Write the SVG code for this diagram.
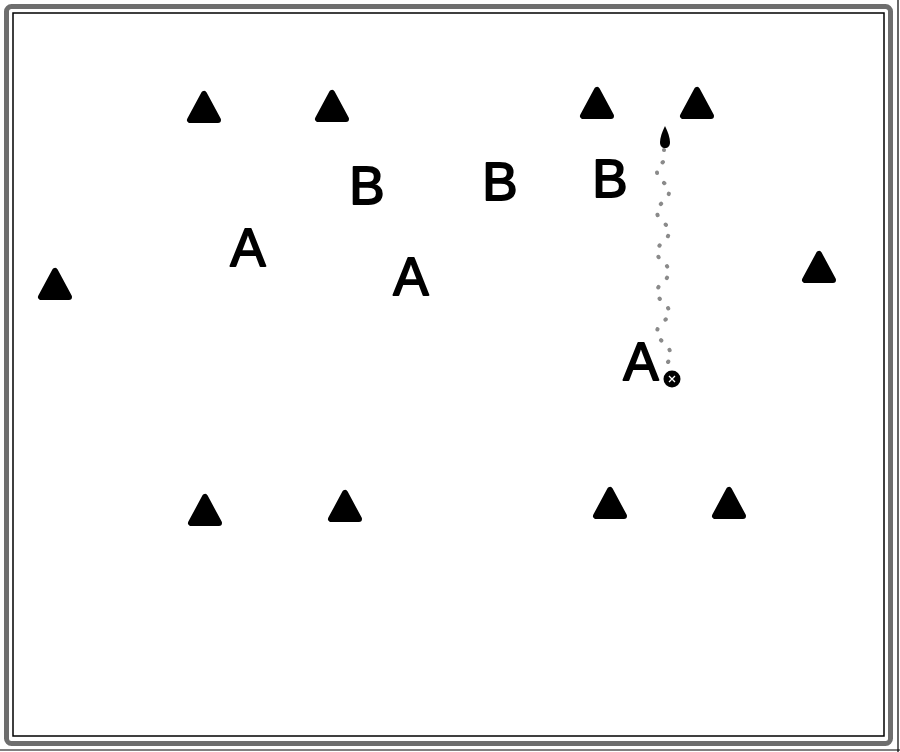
<svg xmlns="http://www.w3.org/2000/svg" width="900" height="752" viewBox="0 0 900 752">
<defs>
<style>
.cone{fill:#000;stroke:#000;stroke-width:6;stroke-linejoin:round}
.lbl{font-family:"Liberation Sans",Arial,sans-serif;font-size:53px;fill:#000;stroke:#000;stroke-width:1.8;stroke-linejoin:round;text-anchor:middle}
.path{fill:none;stroke:#8a8a8a;stroke-width:4;stroke-linecap:round;stroke-dasharray:0.5 12}
</style>
<polygon id="c" class="cone" points="-14,-3 14,-3 0,-29"/>
</defs>
<rect width="900" height="752" fill="#fff"/>
<g id="frame">
<rect x="6.5" y="6.5" width="884" height="737" rx="5" fill="none" stroke="#6e6e6e" stroke-width="5"/>
<rect x="13" y="13" width="871" height="723" fill="none" stroke="#000" stroke-width="1.5"/>
<line x1="898" y1="0" x2="898" y2="752" stroke="#000" stroke-width="1.2"/>
<line x1="0" y1="750" x2="900" y2="750" stroke="#000" stroke-width="1.2"/>
</g>
<g id="cones">
<use href="#c" x="204" y="123"/>
<use href="#c" x="332" y="122"/>
<use href="#c" x="597" y="119"/>
<use href="#c" x="697" y="119"/>
<use href="#c" x="55" y="300"/>
<use href="#c" x="819" y="283"/>
<use href="#c" x="205" y="526"/>
<use href="#c" x="345" y="522"/>
<use href="#c" x="610" y="519"/>
<use href="#c" x="729" y="519"/>
</g>
<g id="players-B">
<text class="lbl" x="367" y="204">B</text>
<text class="lbl" x="500" y="200">B</text>
<text class="lbl" x="610" y="197">B</text>
</g>
<g id="players-A">
<text class="lbl" x="248" y="266">A</text>
<text class="lbl" x="411" y="295">A</text>
<text class="lbl" x="641" y="380">A</text>
</g>
<g id="connectors">
<path class="path" d="M668,362 Q675,352 663,342 T663,322 T663,302 T663,282 T663,262 T663,242 T663,222 T663,202 T663,182 T663,162 L664,150"/>
<path d="M665,126 C668,132 670,138 670,142 C670,146 668,148 665,148 C662,148 660,146 660,142 C660,138 662,132 665,126 Z" fill="#000"/>
</g>
<g id="ball">
<circle cx="672" cy="379" r="8.5" fill="#000"/>
<path d="M669,376 L675,382 M675,376 L669,382" stroke="#fff" stroke-width="1.3"/>
</g>
</svg>
